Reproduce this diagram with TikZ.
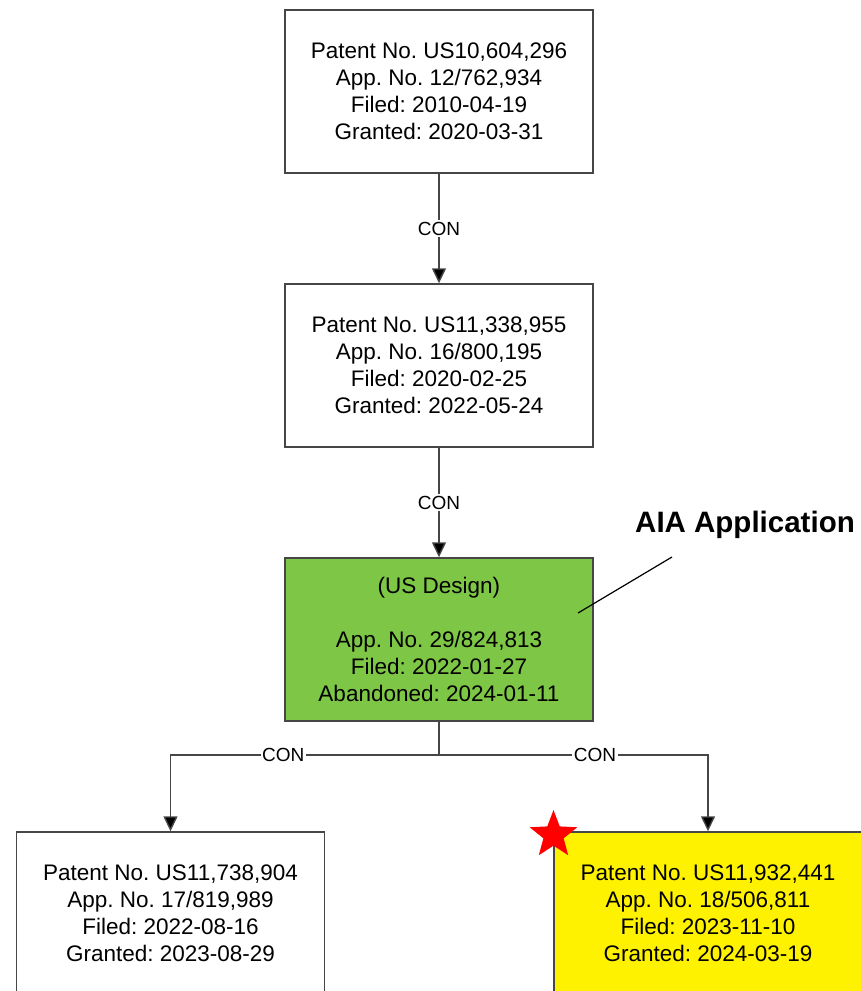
\documentclass[tikz,border=0pt]{standalone}
\usepackage{fontspec}
\setmainfont{Liberation Sans}
\usepackage{xcolor}
\usetikzlibrary{arrows.meta,shapes.geometric}
\frenchspacing

\definecolor{aiagreen}{RGB}{125,198,70}
\definecolor{linegray}{RGB}{70,70,70}

\begin{document}
\begin{tikzpicture}[
                    x=1pt, y=1pt,
                    node distance=274pt,
                    patent/.style={
                        rectangle,
                        draw=linegray,
                        line width=1.4pt,
                        minimum width=308pt,
                        minimum height=163pt,
                        align=center,
                        font=\fontsize{22.5pt}{27pt}\selectfont
                    },
                    con/.style={
                        draw=linegray,
                        line width=1.4pt,
                        -{Triangle[width=14pt,length=15pt,fill=black]}
                    },
                    lbl/.style={
                        fill=white,
                        inner sep=1.5pt,
                        font=\fontsize{19pt}{22pt}\selectfont
                    }
                ]
                    \useasboundingbox (0,0) rectangle (860,-991);

                    \node[patent] (p604) at (439,-91.5) {Patent No. US10,604,296\\App. No. 12/762,934\\Filed: 2010-04-19\\Granted: 2020-03-31};
                    \node[patent] (p955) [below of=p604] {Patent No. US11,338,955\\App. No. 16/800,195\\Filed: 2020-02-25\\Granted: 2022-05-24};
                    \node[patent, fill=aiagreen] (d813) [below of=p955] {(US Design)\\ \\App. No. 29/824,813\\Filed: 2022-01-27\\Abandoned: 2024-01-11};
                    \node[patent] (p904) [below of=d813, xshift=-268.5pt] {Patent No. US11,738,904\\App. No. 17/819,989\\Filed: 2022-08-16\\Granted: 2023-08-29};
                    \node[patent, fill=yellow] (p441) [below of=d813, xshift=269pt] {Patent No. US11,932,441\\App. No. 18/506,811\\Filed: 2023-11-10\\Granted: 2024-03-19};

                    % star on the yellow one
                    \node[star, star points=5, star point ratio=2.35, fill=red, minimum size=50pt, inner sep=0pt] (prio) at (553.5,-835) {};

                    % AIA callout
                    \node[font=\bfseries\fontsize{29.5pt}{34pt}\selectfont, inner sep=0pt] (aia) at (745,-525) {AIA Application};
                    \coordinate (aiatip) at (578,-613);
                    \coordinate (aiaend) at (672,-557);
                    \draw[line width=1.2pt] (aiatip) -- (aiaend);

                    % Edges
                    \draw[con] (p604) -- node[lbl] {CON} (p955);
                    \draw[con] (p955) -- node[lbl] {CON} (d813);
                    \coordinate (split) at (439,-755);
                    \draw[draw=linegray, line width=1.4pt] (d813) -- (split);
                    \draw[con] (split) -| node[lbl, pos=0.29] {CON} (p904);
                    \draw[con] (split) -| node[lbl, pos=0.29] {CON} (p441);
                \end{tikzpicture}
\end{document}
